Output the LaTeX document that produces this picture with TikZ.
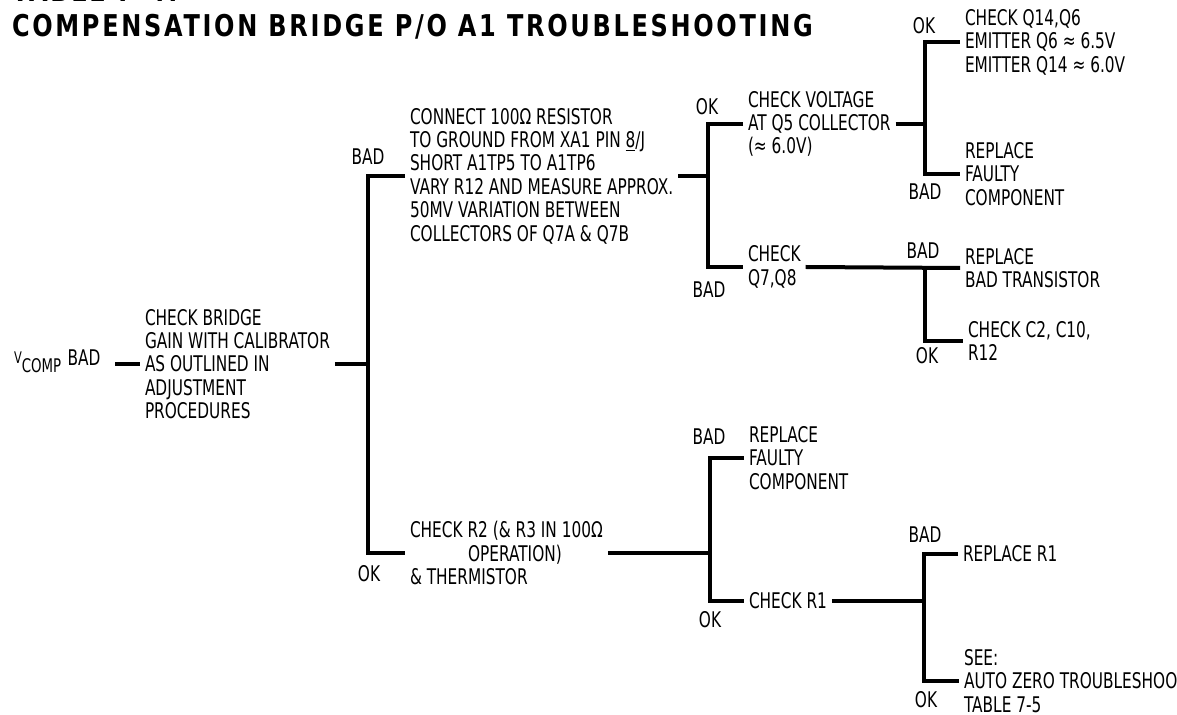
\documentclass[tikz,border=0pt]{standalone}
\usepackage{fontspec}
\setmainfont[FakeStretch=0.71]{DejaVu Sans}
\newfontfamily\titlefont[FakeStretch=0.8,LetterSpace=9]{DejaVu Sans}

\begin{document}
\begin{tikzpicture}[x=0.5pt, y=-0.5pt, line width=2pt,
    txt/.style={align=left, inner sep=1.5pt, anchor=west, font=\fontsize{10.8}{11.7}\selectfont},
    lbl/.style={inner sep=0pt, font=\fontsize{10.8}{11.7}\selectfont},
    link/.style={line width=2pt}]
        \useasboundingbox (0,0) rectangle (1177,715);

        % 标题
        \node[anchor=base west, inner sep=0pt, font=\titlefont\bfseries\fontsize{15}{18}\selectfont] (tablenum) at (10,2) {TABLE 7-4.};
        \node[anchor=base west, inner sep=0pt, font=\titlefont\bfseries\fontsize{15}{18}\selectfont] (title) at (10,37) {COMPENSATION BRIDGE P/O A1 TROUBLESHOOTING};

        % 输入
        \node[anchor=base west, inner sep=0pt, font=\fontsize{9.4}{11.7}\selectfont] (vcomp) at (12,373) {\raisebox{0.9ex}{\footnotesize V}COMP};
        \node[lbl] (vbad) at (84,358) {BAD};
        \coordinate (vin) at (115,364);

        % 检查步骤
        \node[txt] (bridge) at (140,364) {CHECK BRIDGE\\GAIN WITH CALIBRATOR\\AS OUTLINED IN\\ADJUSTMENT\\PROCEDURES};
        \node[txt] (connect) at (405,176) {CONNECT 100Ω RESISTOR\\TO GROUND FROM XA1 PIN \underline{8}/J\\SHORT A1TP5 TO A1TP6\\VARY R12 AND MEASURE APPROX.\\50MV VARIATION BETWEEN\\COLLECTORS OF Q7A \& Q7B};
        \node[txt] (chkr2) at (405,553) {CHECK R2 (\& R3 IN 100Ω\\\hspace*{29pt}OPERATION)\\\& THERMISTOR};
        \node[txt] (voltage) at (743,124) {CHECK VOLTAGE\\AT Q5 COLLECTOR\\(≈ 6.0V)};
        \node[txt] (q7q8) at (743,267) {CHECK\\Q7,Q8};
        \node[txt] (q14) at (960,42) {CHECK Q14,Q6\\EMITTER Q6 ≈ 6.5V\\EMITTER Q14 ≈ 6.0V};
        \node[txt] (faulty1) at (960,174) {REPLACE\\FAULTY\\COMPONENT};
        \node[txt] (badtr) at (960,268) {REPLACE\\BAD TRANSISTOR};
        \node[txt] (c2) at (963,341) {CHECK C2, C10,\\R12};
        \node[txt] (faulty2) at (744,458) {REPLACE\\FAULTY\\COMPONENT};
        \node[txt] (chkr1) at (744,601) {CHECK R1};
        \node[txt] (repr1) at (958,554) {REPLACE R1};
        \node[txt] (see) at (959,681) {SEE:\\AUTO ZERO TROUBLESHOOTING\\TABLE 7-5};

        % 分支点
        \coordinate (j1) at (368,364);
        \coordinate (j2) at (708,176);
        \coordinate (j3) at (925,124);
        \coordinate (j4) at (925,268);
        \coordinate (j5) at (710,553);
        \coordinate (j6) at (924,601);

        % 连线
        \draw[link] (vin) -- (bridge.west);
        \draw[link] (bridge.east) -- (j1);
        \draw[link] (connect.west) -| (j1) |- (chkr2.west);
        \draw[link] (connect.east) -- (j2);
        \draw[link] (voltage.west) -| (j2) |- (q7q8.west);
        \draw[link] (voltage.east) -- (j3);
        \draw[link] (q14.west) -| (j3) |- (faulty1.west);
        \draw[link] (q7q8.east) -- (badtr.west);
        \draw[link] (j4) |- (c2.west);
        \draw[link] (chkr2.east) -- (j5);
        \draw[link] (faulty2.west) -| (j5) |- (chkr1.west);
        \draw[link] (chkr1.east) -- (j6);
        \draw[link] (repr1.west) -| (j6) |- (see.west);

        % 标记
        \node[lbl] (bad1) at (368,157) {BAD};
        \node[lbl] (ok1) at (369,574) {OK};
        \node[lbl] (ok2) at (707,107) {OK};
        \node[lbl] (bad2) at (709,290) {BAD};
        \node[lbl] (ok3) at (924,26) {OK};
        \node[lbl] (bad3) at (925,192) {BAD};
        \node[lbl] (bad4) at (923,251) {BAD};
        \node[lbl] (ok4) at (927,356) {OK};
        \node[lbl] (bad5) at (709,437) {BAD};
        \node[lbl] (ok5) at (710,620) {OK};
        \node[lbl] (bad6) at (925,535) {BAD};
        \node[lbl] (ok6) at (926,700) {OK};
    \end{tikzpicture}
\end{document}
